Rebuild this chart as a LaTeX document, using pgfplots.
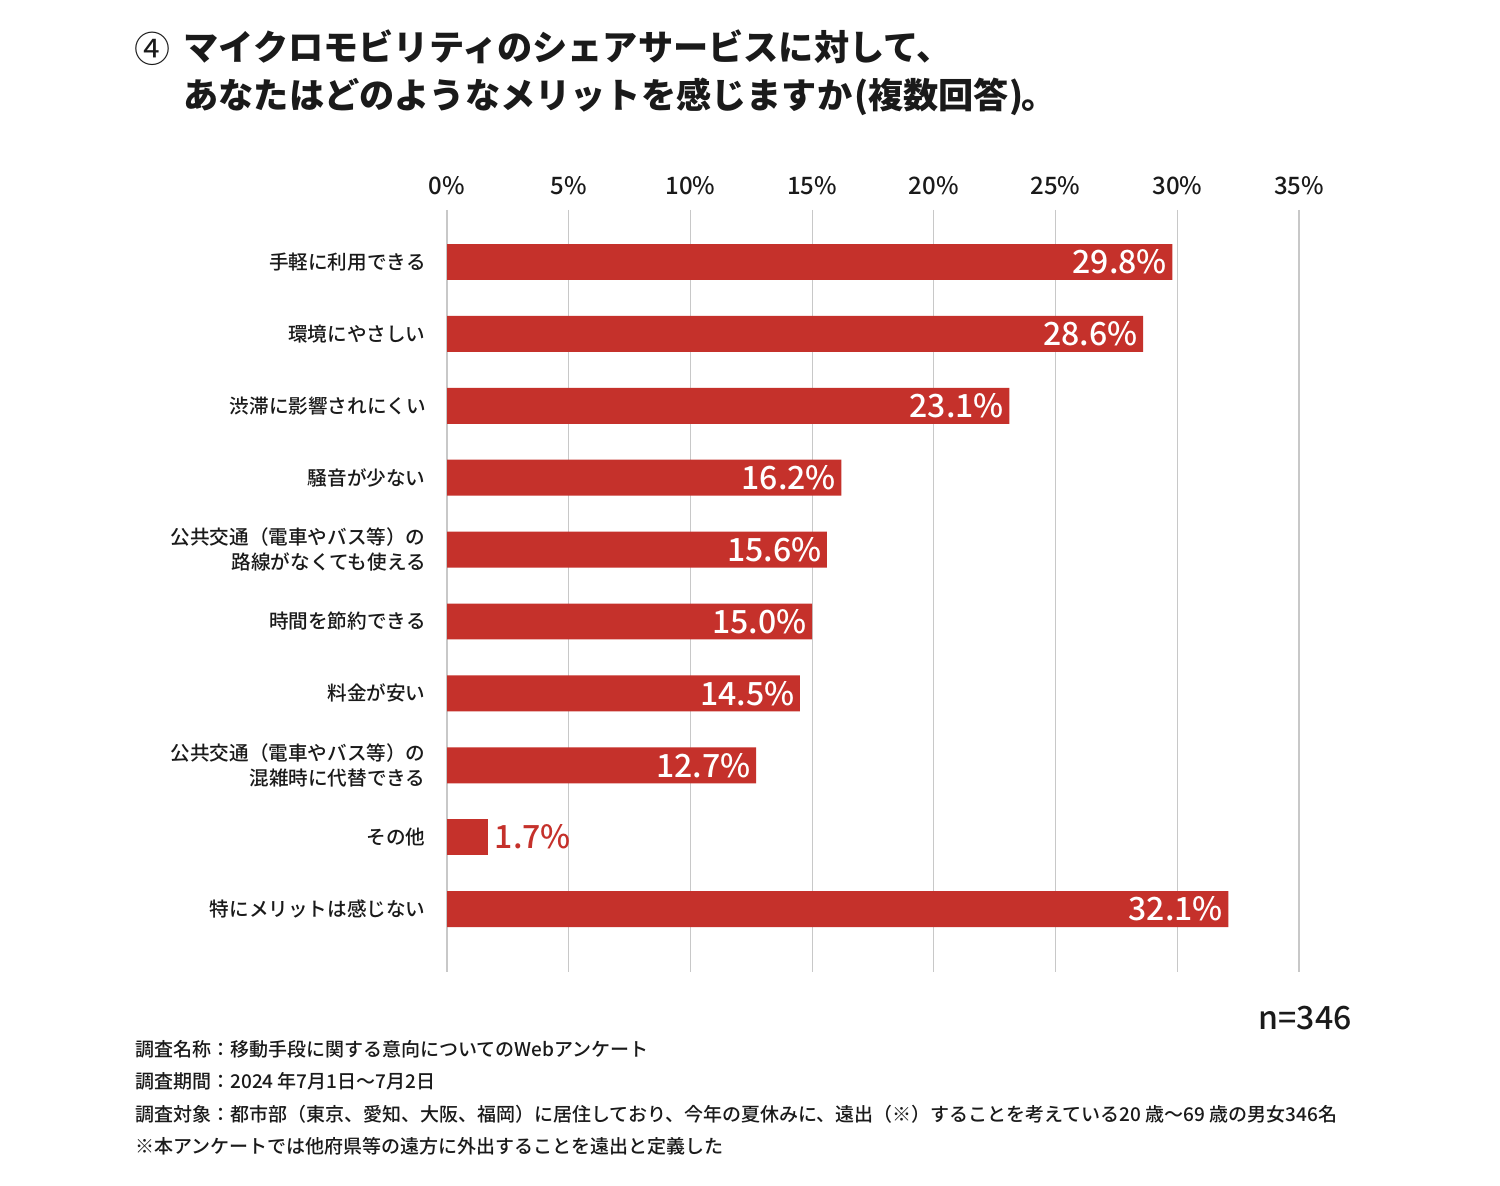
\documentclass[border=0pt]{standalone}
\usepackage{fontspec}
\setmainfont{Noto Sans CJK JP}
\newfontfamily\medium{Noto Sans CJK JP Medium}
\usepackage{pgfplots}
\pgfplotsset{compat=1.18}
\definecolor{barred}{HTML}{C5312B}
\definecolor{gridgray}{HTML}{C8C8C8}
\definecolor{txt}{HTML}{1A1A1A}
\begin{document}
\begin{tikzpicture}
\fill[white] (0pt,0pt) rectangle (750pt,593pt);
\useasboundingbox (0pt,0pt) rectangle (750pt,593pt);
\begin{axis}[
  at={(223.5pt,107pt)}, anchor=south west,
  scale only axis, width=426pt, height=381pt,
  xbar, bar shift=0pt, bar width=0.5,
  xmin=0, xmax=35, ymin=-0.723, ymax=9.875, y dir=reverse,
  xtick={0,5,...,35}, xticklabel pos=upper,
  xticklabel={\pgfmathprintnumber{\tick}\%},
  xticklabel style={font=\medium\fontsize{12}{14}\selectfont, text=txt, yshift=4pt},
  ytick={0,...,9},
  yticklabels={手軽に利用できる, 環境にやさしい, 渋滞に影響されにくい, 騒音が少ない,
    {公共交通（電車やバス等）の\\路線がなくても使える}, 時間を節約できる, 料金が安い,
    {公共交通（電車やバス等）の\\混雑時に代替できる}, その他, 特にメリットは感じない},
  yticklabel style={align=right, font=\medium\fontsize{9.8}{12.5}\selectfont, text=txt, inner sep=0pt, xshift=-10.5pt},
  xmajorgrids, grid style={gridgray, line width=0.6pt},
  axis line style={draw=none}, major tick length=0pt,
  /pgf/number format/assume math mode=true,
  point meta=x,
]
\addplot[fill=barred, draw=none,
  nodes near coords={\pgfmathprintnumber[fixed,fixed zerofill,precision=1]{\pgfplotspointmeta}\%},
  nodes near coords align={anchor=east},
  every node near coord/.append style={text=white, font=\medium\fontsize{16}{18}\selectfont, inner xsep=2.5pt, anchor=east}]
  coordinates {(29.8,0) (28.6,1) (23.1,2) (16.2,3) (15.6,4) (15.0,5) (14.5,6) (12.7,7) (32.1,9)};
\addplot[fill=barred, draw=none,
  nodes near coords={\pgfmathprintnumber[fixed,fixed zerofill,precision=1]{\pgfplotspointmeta}\%},
  nodes near coords align={anchor=west},
  every node near coord/.append style={text=barred, font=\medium\fontsize{16}{18}\selectfont, inner xsep=3pt, anchor=west}]
  coordinates {(1.7,8)};
\end{axis}
\node[anchor=center, font=\fontsize{18}{24}\selectfont, text=txt] at (76pt,568.5pt) {④};
\node[anchor=west, align=left, inner sep=0pt, font=\bfseries\fontsize{17.6}{24}\selectfont, text=txt] at (91.5pt,556.5pt) {マイクロモビリティのシェアサービスに対して、\\あなたはどのようなメリットを感じますか\kern1pt(複数回答)\kern-1pt。};
\node[anchor=east, inner sep=0pt, font=\medium\fontsize{16}{18}\selectfont, text=txt] at (676pt,84pt) {n=346};
\begin{scope}[every node/.style={anchor=west, inner sep=0pt, font=\medium\fontsize{9.5}{12}\selectfont, text=txt}]
\node at (67.5pt,68.5pt) {調査名称：移動手段に関する意向についてのWebアンケート};
\node at (67.5pt,52.5pt) {調査期間：2024 年7月1日〜7月2日};
\node at (67.5pt,36pt) {調査対象：都市部（東京、愛知、大阪、福岡）に居住しており、今年の夏休みに、遠出（※）することを考えている20 歳〜69 歳の男女346名};
\node at (67.5pt,20pt) {※本アンケートでは他府県等の遠方に外出することを遠出と定義した};
\end{scope}
\end{tikzpicture}
\end{document}
